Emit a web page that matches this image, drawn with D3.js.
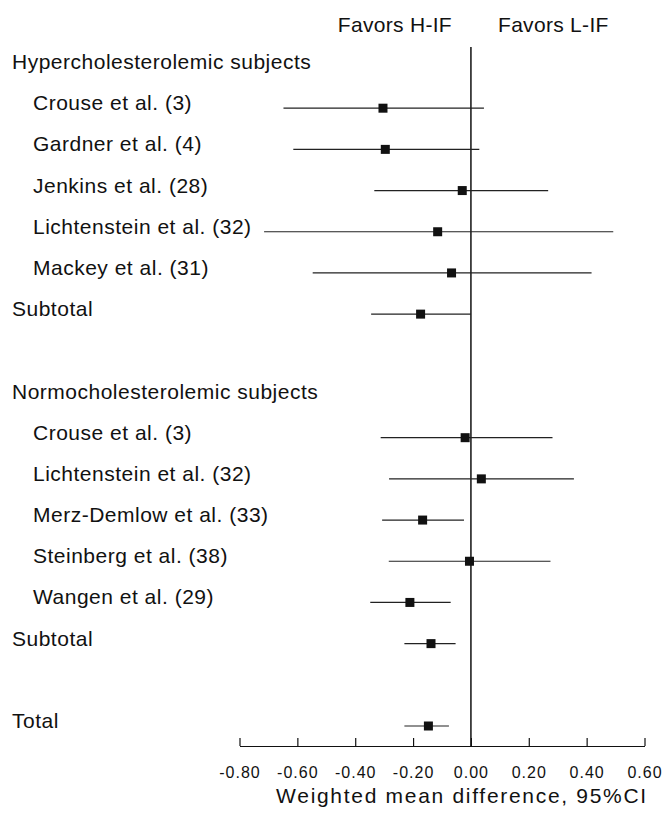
<!DOCTYPE html>
<html>
<head>
<meta charset="utf-8">
<script src="https://cdn.jsdelivr.net/npm/d3@7"></script>
<style>
  body { margin: 0; background: #fff; }
  text { font-family: "Liberation Sans", Arial, sans-serif; fill: #111; }
</style>
</head>
<body>
<div id="chart"></div>
<script>
// Filas del forest plot (de arriba abajo)
var rowLabels = [
    "Hypercholesterolemic subjects",
    "Crouse et al. (3)",
    "Gardner et al. (4)",
    "Jenkins et al. (28)",
    "Lichtenstein et al. (32)",
    "Mackey et al. (31)",
    "Subtotal",
    "",
    "Normocholesterolemic subjects",
    "Crouse et al. (3)",
    "Lichtenstein et al. (32)",
    "Merz-Demlow et al. (33)",
    "Steinberg et al. (38)",
    "Wangen et al. (29)",
    "Subtotal",
    "",
    "Total"
];
// 0 = cabecera / subtotal (sin sangría), 1 = estudio (con sangría)
var rowIndent = [0, 1, 1, 1, 1, 1, 0, 0, 0, 1, 1, 1, 1, 1, 0, 0, 0];

// Diferencia media ponderada e IC 95% (null = fila sin datos)
var means = [null, -0.304, -0.296, -0.030, -0.115, -0.067, -0.174, null,
             null, -0.020, 0.036, -0.167, -0.005, -0.211, -0.138, null, -0.147];
var lows  = [null, -0.648, -0.614, -0.334, -0.715, -0.547, -0.345, null,
             null, -0.312, -0.283, -0.307, -0.284, -0.348, -0.230, null, -0.230];
var highs = [null, 0.045, 0.029, 0.267, 0.492, 0.417, 0.000, null,
             null, 0.282, 0.356, -0.024, 0.275, -0.070, -0.053, null, -0.076];

var tickValues = [-0.8, -0.6, -0.4, -0.2, 0, 0.2, 0.4, 0.6];
var xTitle = "Weighted mean difference, 95%CI";
var favorLeft = "Favors H-IF";
var favorRight = "Favors L-IF";

var width = 663, height = 815;
var svg = d3.select("#chart").append("svg")
    .attr("width", width)
    .attr("height", height);

var x = d3.scaleLinear().domain([-0.8, 0.6]).range([239.5, 644.5]);
var y = d3.scalePoint().domain(d3.range(rowLabels.length)).range([67, 726]);
var axisY = 746;

// Etiquetas de las filas
svg.selectAll(".rowlabel")
    .data(rowLabels)
    .enter()
    .append("text")
    .attr("class", "rowlabel")
    .attr("x", (d, i) => rowIndent[i] ? 33 : 12)
    .attr("y", (d, i) => y(i) + 2)
    .style("font-size", "21px")
    .style("letter-spacing", "0.5px")
    .text(d => d);

// Línea vertical en cero
svg.append("line")
    .attr("x1", x(0)).attr("x2", x(0))
    .attr("y1", 47).attr("y2", axisY)
    .attr("stroke", "#111")
    .attr("stroke-width", 1.5);

// Índices de filas con datos
var dataRows = d3.range(rowLabels.length).filter(i => means[i] !== null);

// Intervalos de confianza
svg.selectAll(".ci")
    .data(dataRows)
    .enter()
    .append("line")
    .attr("class", "ci")
    .attr("x1", i => x(lows[i]))
    .attr("x2", i => x(highs[i]))
    .attr("y1", i => y(i))
    .attr("y2", i => y(i))
    .attr("stroke", "#222")
    .attr("stroke-width", 1.2);

// Cuadrados de la estimación
var sq = 9;
svg.selectAll(".pt")
    .data(dataRows)
    .enter()
    .append("rect")
    .attr("class", "pt")
    .attr("x", i => x(means[i]) - sq / 2)
    .attr("y", i => y(i) - sq / 2)
    .attr("width", sq)
    .attr("height", sq)
    .attr("fill", "#111");

// Eje X con marcas hacia arriba
var axis = d3.axisBottom(x)
    .tickValues(tickValues)
    .tickSizeInner(-8)
    .tickSizeOuter(0)
    .tickPadding(21)
    .tickFormat(d => d.toFixed(2));

var gAxis = svg.append("g")
    .attr("transform", "translate(0," + axisY + ")")
    .call(axis);

gAxis.select(".domain").attr("stroke", "#111").attr("stroke-width", 1.2);
gAxis.selectAll(".tick line").attr("stroke", "#111").attr("stroke-width", 1.2);
gAxis.selectAll(".tick text")
    .style("font-family", "\"Liberation Sans\", Arial, sans-serif")
    .style("font-size", "16px")
    .style("letter-spacing", "1px")
    .attr("fill", "#111");

// Título del eje
svg.append("text")
    .attr("x", 462)
    .attr("y", 803)
    .attr("text-anchor", "middle")
    .style("font-size", "21px")
    .style("letter-spacing", "1.7px")
    .text(xTitle);

// Rótulos "Favors"
svg.append("text")
    .attr("x", 452)
    .attr("y", 32)
    .attr("text-anchor", "end")
    .style("font-size", "21px")
    .style("letter-spacing", "0.3px")
    .text(favorLeft);

svg.append("text")
    .attr("x", 498)
    .attr("y", 32)
    .style("font-size", "21px")
    .style("letter-spacing", "0.3px")
    .text(favorRight);
</script>
</body>
</html>
